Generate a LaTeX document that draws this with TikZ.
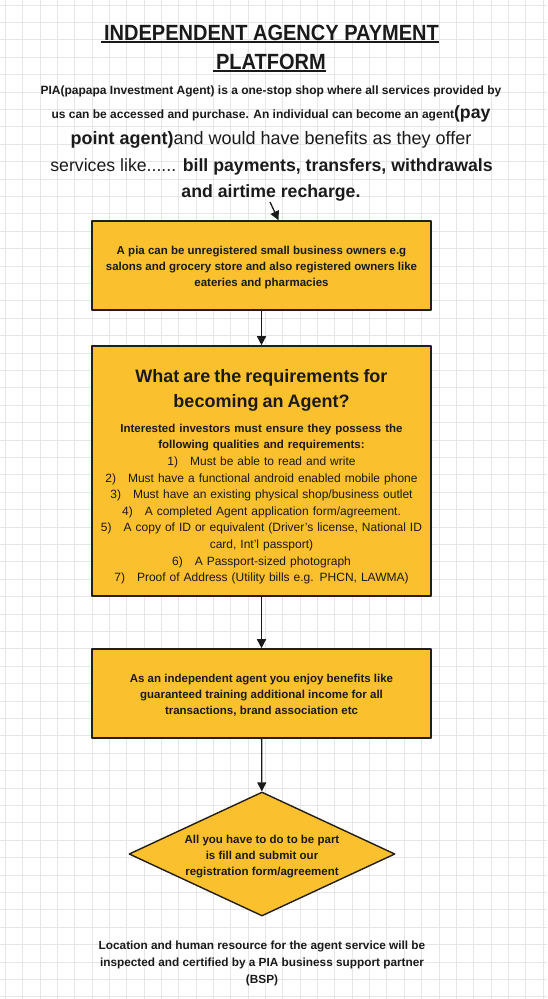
\documentclass[tikz,border=0pt]{standalone}
\usepackage{fontspec}
\setmainfont{Liberation Sans}
\newfontfamily\titlefont[FakeStretch=0.91]{Liberation Sans}
\usepackage{tikz}
\usetikzlibrary{arrows.meta,shapes.geometric,positioning}
\definecolor{boxyellow}{HTML}{FBC02D}
\definecolor{gridgray}{HTML}{E6E6E6}
\definecolor{edgeblack}{HTML}{221E18}
\definecolor{inkblack}{HTML}{1A1A1A}
\newcommand{\fsz}[2]{\fontsize{#1}{#2}\selectfont}

\begin{document}
\begin{tikzpicture}[x=1pt,y=-1pt,line join=round,
	gridline/.style={gridgray,line width=0.8pt},
	flowbox/.style={draw=edgeblack,line width=1.6pt,fill=boxyellow,minimum width=339pt,align=center,inner sep=0pt,text=inkblack},
	decision/.style={diamond,draw=edgeblack,line width=1.4pt,fill=boxyellow,shape aspect=2.15,minimum width=266pt,minimum height=124pt,inner sep=0pt,align=center,text=inkblack},
	flow/.style={-{Triangle[length=9pt,width=9pt]},line width=1.3pt,inkblack},
	introline/.style={anchor=base,inner sep=0pt,text=inkblack}]
\useasboundingbox (0,0) rectangle (547,999);
\fill[white] (0,0) rectangle (547,999);
\foreach \i in {0,...,31} {
	\draw[gridline] ({5.4+17.34*\i},0) -- ++(0,999);
}
\foreach \j in {0,...,57} {
	\draw[gridline] (0,{5+17.4*\j}) -- ++(547,0);
}
% title and introduction
\node[introline,font=\titlefont\fsz{22}{22}\bfseries] (title1) at (271.5,40) {INDEPENDENT AGENCY PAYMENT};
\node[introline,font=\titlefont\fsz{22}{22}\bfseries] (title2) at (271,69) {PLATFORM};
\foreach \t in {title1,title2} {
	\draw[line width=1.4pt,inkblack] ([yshift=-1.8pt,xshift=-3pt]\t.base west) -- ([yshift=-1.8pt]\t.base east);
}
\node[introline,font=\fsz{12}{12}\bfseries] (intro1) at (271,94.2) {PIA(papapa Investment Agent) is a one-stop shop where all services provided by};
\node[introline] (intro2) at (271,118.6) {\fsz{12}{12}\bfseries us can be accessed and purchase. An individual can become an agent\fsz{17.7}{17.7}(pay};
\node[introline] (intro3) at (271,144.8) {\fsz{18}{18}\textbf{point agent)}and would have benefits as they offer};
\node[introline] (intro4) at (271.5,171) {\fsz{17.7}{17.7}services like...... \textbf{bill payments, transfers, withdrawals}};
\node[introline,font=\fsz{17.7}{17.7}\bfseries] (intro5) at (271,197) {and airtime recharge.};
% flow
\node[flowbox,minimum height=89pt,font=\fsz{11.5}{16}\bfseries] (pia) at (261.5,265.5)
	{\rule{0pt}{12pt}A pia can be unregistered small business owners e.g\\salons and grocery store and also registered owners like\\eateries and pharmacies};
\node[flowbox,minimum height=250pt,text width=335pt,font=\fsz{12}{16.6}] (req) at (261.5,471) {%
	{\fsz{18}{25}\bfseries\rule{0pt}{25pt}What are the requirements for\par becoming an Agent?\par}
	\vspace{8.5pt}{\fsz{11.5}{16.3}\bfseries Interested investors must ensure they possess the\par following qualities and requirements:\par}
	1)\quad Must be able to read and write\par
	2)\quad Must have a functional android enabled mobile phone\par
	3)\quad Must have an existing physical shop/business outlet\par
	4)\quad A completed Agent application form/agreement.\par
	5)\quad A copy of ID or equivalent (Driver's license, National ID\par card, Int'l passport)\par
	6)\quad A Passport-sized photograph\par
	7)\quad Proof of Address (Utility bills e.g. PHCN, LAWMA)\par};
\node[flowbox,minimum height=89pt,font=\fsz{11.5}{16}\bfseries] (benefit) at (261.5,693.5)
	{\rule{0pt}{12pt}As an independent agent you enjoy benefits like\\guaranteed training additional income for all\\transactions, brand association etc};
\node[decision,font=\fsz{11.5}{16}\bfseries] (register) at (262,854)
	{\rule{0pt}{13pt}All you have to do to be part\\is fill and submit our\\registration form/agreement};
\node[align=center,inner sep=0pt,text=inkblack,font=\fsz{11.8}{17}\bfseries] (bsp) at (262,963)
	{Location and human resource for the agent service will be\\inspected and certified by a PIA business support partner\\(BSP)};
\coordinate (start) at (270,202);
\draw[flow] (start) -- ([xshift=17pt]pia.north);
\draw[flow] (pia) -- (req);
\draw[flow] (req) -- (benefit);
\draw[flow] (benefit) -- (register);
\end{tikzpicture}
\end{document}
